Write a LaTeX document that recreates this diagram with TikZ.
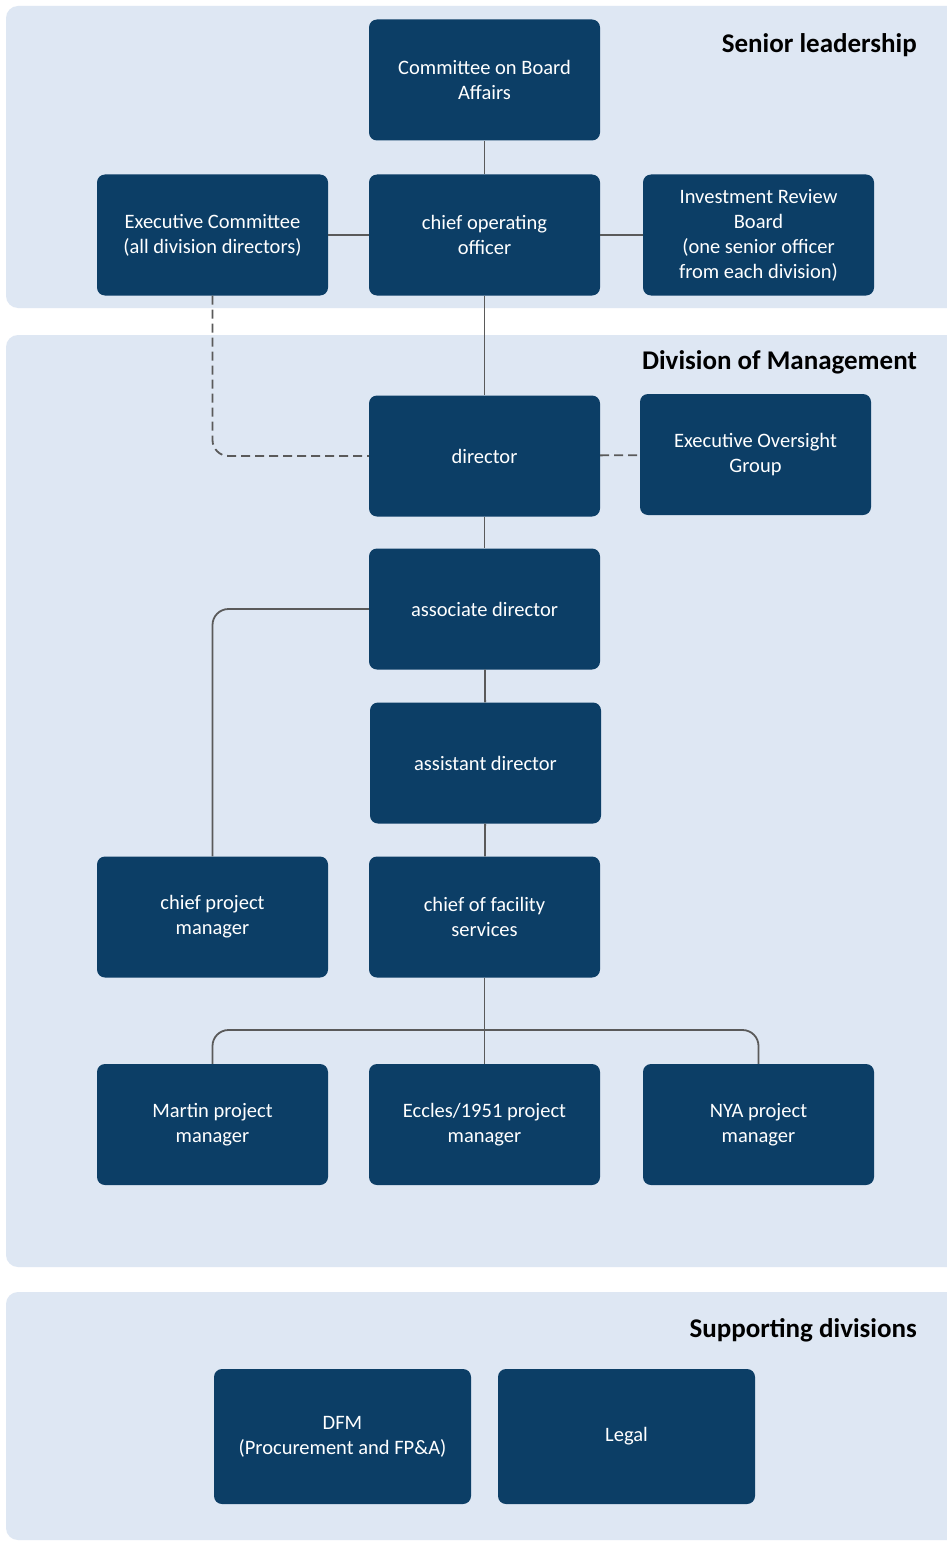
\documentclass[tikz,border=0pt]{standalone}
\usepackage{fontspec}
\setmainfont{Carlito}
\definecolor{boxblue}{RGB}{12,62,102}
\definecolor{panelblue}{RGB}{222,231,243}
\definecolor{linkgray}{RGB}{90,90,90}
\tikzset{
  panel/.style={fill=panelblue,draw=none,rounded corners=12pt},
  orgbox/.style={shape=rectangle,rounded corners=8pt,fill=boxblue,text=white,
    minimum width=231pt,minimum height=121pt,inner sep=0pt,align=center,
    font=\fontsize{20.5}{25}\selectfont},
  suppbox/.style={orgbox,minimum width=257pt,minimum height=135pt},
  heading/.style={anchor=east,inner sep=0pt,font=\fontsize{27}{32}\selectfont\bfseries},
  link/.style={draw=linkgray,line width=1.8pt},
  dashlink/.style={link,dash pattern=on 9pt off 5pt},
}
\begin{document}
\begin{tikzpicture}[x=1pt,y=-1pt]
    \useasboundingbox[fill=white] (0,0) rectangle (947,1541);
    % section backgrounds
    \path[panel] (6,6) rectangle (970,308);
    \path[panel] (6,335) rectangle (970,1267);
    \path[panel] (6,1292) rectangle (970,1540);
    \node[heading] (hsenior) at (917,45) {Senior leadership};
    \node[heading] (hdivision) at (917,362) {Division of Management};
    \node[heading] (hsupport) at (917,1330) {Supporting divisions};
    % senior leadership
    \node[orgbox] (cba) at (484.5,80) {Committee on Board\\Affairs};
    \node[orgbox] (coo) at (484.5,235) {chief operating\\officer};
    \node[orgbox] (exec) at (212.5,235) {Executive Committee\\(all division directors)};
    \node[orgbox] (irb) at (758.5,235) {Investment Review\\Board\\(one senior officer\\from each division)};
    % division of management
    \node[orgbox] (dir) at (484.5,456) {director};
    \node[orgbox] (eog) at (755.5,454.5) {Executive Oversight\\Group};
    \node[orgbox] (assoc) at (484.5,609) {associate director};
    \node[orgbox] (asst) at (485.5,763) {assistant director};
    \node[orgbox] (cpm) at (212.5,917) {chief project\\manager};
    \node[orgbox] (cfs) at (484.5,917) {chief of facility\\services};
    \node[orgbox] (martin) at (212.5,1124.5) {Martin project\\manager};
    \node[orgbox] (eccles) at (484.5,1124.5) {Eccles/1951 project\\manager};
    \node[orgbox] (nya) at (758.5,1124.5) {NYA project\\manager};
    \coordinate (bus) at (484.5,1030);
    % supporting divisions
    \node[suppbox] (dfm) at (342.5,1436.5) {DFM\\(Procurement and FP\&A)};
    \node[suppbox] (legal) at (626.5,1436.5) {Legal};
    % connectors
    \path[link] (cba) -- (coo);
    \path[link] (exec) -- (coo);
    \path[link] (coo) -- (irb);
    \path[link] (coo) -- (dir);
    \path[dashlink,rounded corners=16pt] (exec.south) |- (dir.west);
    \path[dashlink] (dir) -- (eog);
    \path[link] (dir) -- (assoc);
    \path[link] (assoc) -- (asst);
    \path[link] (asst) -- (cfs);
    \path[link,rounded corners=16pt] (assoc.west) -| (cpm.north);
    \path[link] (cfs) -- (eccles);
    \path[link,rounded corners=16pt] (martin.north) |- (bus) -| (nya.north);
\end{tikzpicture}
\end{document}
